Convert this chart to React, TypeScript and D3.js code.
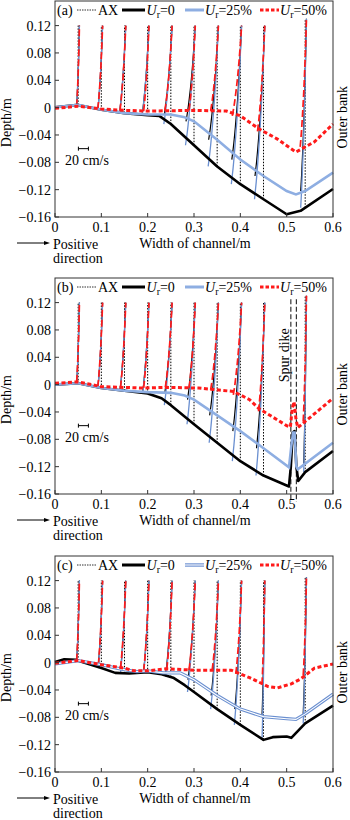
import React, { useRef, useEffect } from "react";
import * as d3 from "d3";

// stations where velocity profiles were measured (m)
const stations = [0.05, 0.1, 0.15, 0.2, 0.25, 0.3, 0.35, 0.4, 0.45, 0.54];
const topsAB = [0.12, 0.12, 0.12, 0.12, 0.12, 0.12, 0.12, 0.12, 0.12, 0.13];
const topsC = [0.12, 0.12, 0.12, 0.12, 0.12, 0.12, 0.12, 0.12, 0.12, 0.125];

// normalised height above bed and fraction of velocity change
const profileEta = [0, 0.1, 0.25, 0.4, 0.6, 0.8, 1];
const profileFrac = [0, 0.17, 0.37, 0.54, 0.72, 0.87, 1];
const surfaceVel = 2.5; // cm/s

const xTicks = [0, 0.1, 0.2, 0.3, 0.4, 0.5, 0.6];
const yTicks = [0.12, 0.08, 0.04, 0, -0.04, -0.08, -0.12, -0.16];

// bed profiles [x, depth]
const bedA0 = [[0, 0.0005], [0.05, 0.004], [0.1, -0.003], [0.15, -0.008], [0.2, -0.011], [0.225, -0.012], [0.25, -0.024], [0.3, -0.055], [0.35, -0.086], [0.4, -0.112], [0.45, -0.134], [0.5, -0.156], [0.53, -0.151], [0.6, -0.119]];
const bedA25 = [[0, 0.0005], [0.05, 0.004], [0.1, -0.003], [0.15, -0.008], [0.2, -0.01], [0.25, -0.01], [0.28, -0.014], [0.3, -0.02], [0.35, -0.047], [0.4, -0.076], [0.45, -0.1], [0.5, -0.122], [0.52, -0.127], [0.54, -0.122], [0.6, -0.095]];
const bedA50 = [[0, -0.001], [0.05, 0.002], [0.1, -0.002], [0.15, -0.004], [0.2, -0.005], [0.3, -0.004], [0.37, -0.005], [0.4, -0.012], [0.44, -0.031], [0.48, -0.046], [0.52, -0.065], [0.56, -0.05], [0.6, -0.024]];

const bedB0 = [[0, 0], [0.05, 0.002], [0.1, -0.005], [0.15, -0.009], [0.2, -0.013], [0.23, -0.02], [0.25, -0.03], [0.3, -0.058], [0.35, -0.085], [0.4, -0.112], [0.45, -0.133], [0.505, -0.149], [0.509, -0.12], [0.513, -0.07], [0.517, -0.068], [0.521, -0.12], [0.525, -0.141], [0.54, -0.128], [0.6, -0.097]];
const bedB25 = [[0, 0], [0.05, 0.002], [0.1, -0.005], [0.15, -0.009], [0.2, -0.011], [0.25, -0.012], [0.28, -0.016], [0.3, -0.022], [0.35, -0.045], [0.4, -0.068], [0.45, -0.093], [0.505, -0.121], [0.51, -0.09], [0.514, -0.07], [0.517, -0.07], [0.521, -0.12], [0.524, -0.124], [0.6, -0.085]];
const bedB50 = [[0, 0.002], [0.05, 0.004], [0.1, -0.003], [0.19, -0.005], [0.24, -0.004], [0.31, -0.005], [0.385, -0.01], [0.42, -0.022], [0.44, -0.035], [0.5, -0.06], [0.508, -0.062], [0.512, -0.035], [0.516, -0.025], [0.52, -0.05], [0.524, -0.063], [0.6, -0.02]];

const bedC0 = [[0, 0.001], [0.02, 0.005], [0.045, 0.004], [0.1, -0.008], [0.13, -0.015], [0.16, -0.016], [0.2, -0.014], [0.23, -0.017], [0.255, -0.022], [0.28, -0.033], [0.3, -0.043], [0.35, -0.068], [0.4, -0.091], [0.45, -0.113], [0.47, -0.109], [0.5, -0.108], [0.51, -0.11], [0.54, -0.089], [0.6, -0.063]];
const bedC25 = [[0, -0.002], [0.05, 0.003], [0.1, -0.003], [0.133, -0.008], [0.155, -0.011], [0.177, -0.013], [0.2, -0.012], [0.234, -0.015], [0.27, -0.015], [0.3, -0.025], [0.35, -0.048], [0.4, -0.068], [0.45, -0.079], [0.5, -0.082], [0.52, -0.083], [0.54, -0.075], [0.6, -0.046]];
const bedC50 = [[0, -0.001], [0.05, 0.003], [0.1, -0.003], [0.15, -0.008], [0.17, -0.012], [0.2, -0.012], [0.24, -0.009], [0.3, -0.011], [0.38, -0.011], [0.42, -0.022], [0.46, -0.035], [0.48, -0.037], [0.51, -0.031], [0.53, -0.024], [0.56, -0.008], [0.6, -0.002]];

// near-bed velocity at each station (cm/s)
const velA0 = [-3, -7, -10, -11, -14, -17, -18, -18, -18, -9];
const velA25 = [-3, -7, -10, -11, -13, -16, -17, -17, -17, -9];
const velA50 = [-3, -7, -9, -8, -12, -10, -13, -16, -12, -10];
const velB0 = [-3, -7, -9, -10, -13, -14, -16, -16, -15, -3];
const velB25 = [-3, -7, -9, -10, -12, -13, -15, -15, -14, -3];
const velB50 = [-3, -7, -8, -8, -11, -10, -13, -14, -10, -4];
const velC0 = [-3, -6, -8, -8, -10, -13, -13, -12, -3, -4];
const velC25 = [-3, -6, -8, -8, -10, -12, -12, -11, -3, -4];
const velC50 = [-3, -6, -8, -8, -8, -10, -10, -9, -3, -4];

const panels = [
  { label: "(a)", top: 1, beds: [bedA0, bedA25, bedA50], vels: [velA0, velA25, velA50], tops: topsAB, spur: false, hollow: false },
  { label: "(b)", top: 278, beds: [bedB0, bedB25, bedB50], vels: [velB0, velB25, velB50], tops: topsAB, spur: true, hollow: false },
  { label: "(c)", top: 556, beds: [bedC0, bedC25, bedC50], vels: [velC0, velC25, velC50], tops: topsC, spur: false, hollow: true },
];

const FONT = "'Liberation Serif', 'Times New Roman', serif";
const BLUE = "#8eaee2";
const BLUE_DARK = "#6a8fd0";
const RED = "#ff1a1a";
const PANEL_H = 216;
const SCALE_BAR_M = 0.0216; // 20 cm/s on the x axis

const App = () => {
  const ref = useRef(null);

  useEffect(() => {
    const svg = d3.select(ref.current);
    svg.selectAll("*").remove();

    const x = d3.scaleLinear().domain([0, 0.6]).range([55, 333]);
    const y = d3.scaleLinear().domain([-0.16, 0.156]).range([PANEL_H, 0]);
    const velToM = SCALE_BAR_M / 20;
    const bedLine = d3.line().x((d) => x(d[0])).y((d) => y(d[1]));
    const profLine = d3.line().x((d) => d[0]).y((d) => d[1]).curve(d3.curveMonotoneY);
    const fmt = (v) => (v === 0 ? "0" : (v < 0 ? "\u2212" : "") + String(Math.abs(v)));

    panels.forEach((p) => {
      const g = svg.append("g").attr("transform", `translate(0,${p.top})`);
      const interp = p.beds.map((b) =>
        d3.scaleLinear().domain(b.map((d) => d[0])).range(b.map((d) => d[1]))
      );

      // AX dotted reference lines
      stations.forEach((s, i) => {
        g.append("line")
          .attr("x1", x(s)).attr("x2", x(s))
          .attr("y1", y(interp[0](s))).attr("y2", y(p.tops[i]))
          .attr("stroke", "#000").attr("stroke-width", 1)
          .attr("stroke-dasharray", "1.5,1.5");
      });

      if (p.spur) {
        [0.509, 0.521].forEach((sx) => {
          g.append("line")
            .attr("x1", x(sx)).attr("x2", x(sx))
            .attr("y1", y(0.125)).attr("y2", PANEL_H + 8)
            .attr("stroke", "#333").attr("stroke-width", 1.2)
            .attr("stroke-dasharray", "5,2.5");
        });
        g.append("text")
          .attr("transform", `translate(289,${y(0.043)}) rotate(-90)`)
          .attr("text-anchor", "middle")
          .attr("font-family", FONT).attr("font-size", 14)
          .text("Spur dike");
      }

      // velocity profiles: blue, black, red
      const profStyles = [
        { c: BLUE_DARK, w: 1.3, dash: null },
        { c: "#000", w: 1.2, dash: null },
        { c: RED, w: 1.7, dash: "7,3" },
      ];
      [1, 0, 2].forEach((k) => {
        stations.forEach((s, i) => {
          const zb = interp[k](s);
          const vb = p.vels[k][i];
          const pts = profileEta.map((e, j) => {
            const z = zb + e * (p.tops[i] - zb);
            const v = vb + profileFrac[j] * (surfaceVel - vb);
            return [x(s + v * velToM), y(z)];
          });
          const st = profStyles[k];
          g.append("path")
            .attr("d", profLine(pts))
            .attr("fill", "none")
            .attr("stroke", st.c).attr("stroke-width", st.w)
            .attr("stroke-dasharray", st.dash);
        });
      });

      // bed lines
      g.append("path").attr("d", bedLine(p.beds[0])).attr("fill", "none")
        .attr("stroke", "#000").attr("stroke-width", 2.6).attr("stroke-linejoin", "round");
      if (p.hollow) {
        g.append("path").attr("d", bedLine(p.beds[1])).attr("fill", "none")
          .attr("stroke", BLUE_DARK).attr("stroke-width", 3.2);
        g.append("path").attr("d", bedLine(p.beds[1])).attr("fill", "none")
          .attr("stroke", "#fff").attr("stroke-width", 1.1);
      } else {
        g.append("path").attr("d", bedLine(p.beds[1])).attr("fill", "none")
          .attr("stroke", BLUE).attr("stroke-width", 2.6);
      }
      g.append("path").attr("d", bedLine(p.beds[2])).attr("fill", "none")
        .attr("stroke", RED).attr("stroke-width", 3).attr("stroke-dasharray", "4,2.5");

      // frame
      g.append("rect")
        .attr("x", 55).attr("y", 0).attr("width", 278).attr("height", PANEL_H)
        .attr("fill", "none").attr("stroke", "#333").attr("stroke-width", 1);

      // ticks and labels
      xTicks.forEach((t) => {
        g.append("line").attr("x1", x(t)).attr("x2", x(t))
          .attr("y1", PANEL_H).attr("y2", PANEL_H - 4).attr("stroke", "#333");
        g.append("text").attr("x", x(t)).attr("y", PANEL_H + 15)
          .attr("text-anchor", "middle").attr("font-family", FONT).attr("font-size", 14)
          .text(String(t));
      });
      yTicks.forEach((t) => {
        g.append("line").attr("x1", 55).attr("x2", 59)
          .attr("y1", y(t)).attr("y2", y(t)).attr("stroke", "#333");
        g.append("text").attr("x", 51).attr("y", y(t) + 5)
          .attr("text-anchor", "end").attr("font-family", FONT).attr("font-size", 14)
          .text(fmt(t));
      });

      g.append("text")
        .attr("transform", `translate(11,${y(-0.022)}) rotate(-90)`)
        .attr("text-anchor", "middle").attr("font-family", FONT).attr("font-size", 14)
        .text("Depth/m");
      g.append("text")
        .attr("transform", `translate(347,${y(-0.014)}) rotate(-90)`)
        .attr("text-anchor", "middle").attr("font-family", FONT).attr("font-size", 14)
        .text("Outer bank");
      g.append("text").attr("x", 195).attr("y", PANEL_H + 31)
        .attr("text-anchor", "middle").attr("font-family", FONT).attr("font-size", 14)
        .text("Width of channel/m");

      // positive direction arrow
      g.append("line").attr("x1", 17).attr("x2", 46)
        .attr("y1", PANEL_H + 26).attr("y2", PANEL_H + 26).attr("stroke", "#000").attr("stroke-width", 1);
      g.append("path")
        .attr("d", `M50,${PANEL_H + 26} L44,${PANEL_H + 24} L44,${PANEL_H + 28} Z`)
        .attr("fill", "#000");
      g.append("text").attr("x", 53).attr("y", PANEL_H + 32)
        .attr("font-family", FONT).attr("font-size", 14).text("Positive");
      g.append("text").attr("x", 53).attr("y", PANEL_H + 46)
        .attr("font-family", FONT).attr("font-size", 14).text("direction");

      // velocity scale bar
      const sbY = y(-0.06);
      const sb0 = x(0.0505);
      const sb1 = x(0.0505 + SCALE_BAR_M);
      g.append("path")
        .attr("d", `M${sb0},${sbY - 2}V${sbY + 2}M${sb0},${sbY}H${sb1}M${sb1},${sbY - 2}V${sbY + 2}`)
        .attr("stroke", "#000").attr("stroke-width", 1).attr("fill", "none");
      g.append("text").attr("x", 65).attr("y", sbY + 16)
        .attr("font-family", FONT).attr("font-size", 14).text("20 cm/s");

      // legend
      const ly = 9;
      const lg = g.append("g").attr("font-family", FONT).attr("font-size", 14);
      lg.append("text").attr("x", 57).attr("y", ly + 5).text(p.label);
      lg.append("line").attr("x1", 77).attr("x2", 97).attr("y1", ly).attr("y2", ly)
        .attr("stroke", "#333").attr("stroke-width", 1).attr("stroke-dasharray", "1.5,1");
      lg.append("text").attr("x", 98).attr("y", ly + 5).text("AX");
      lg.append("line").attr("x1", 122).attr("x2", 145).attr("y1", ly).attr("y2", ly)
        .attr("stroke", "#000").attr("stroke-width", 3);
      if (p.hollow) {
        lg.append("line").attr("x1", 185).attr("x2", 204).attr("y1", ly).attr("y2", ly)
          .attr("stroke", BLUE_DARK).attr("stroke-width", 3.4);
        lg.append("line").attr("x1", 185).attr("x2", 204).attr("y1", ly).attr("y2", ly)
          .attr("stroke", "#fff").attr("stroke-width", 1.1);
      } else {
        lg.append("line").attr("x1", 185).attr("x2", 204).attr("y1", ly).attr("y2", ly)
          .attr("stroke", BLUE).attr("stroke-width", 3);
      }
      lg.append("line").attr("x1", 260).attr("x2", 279).attr("y1", ly).attr("y2", ly)
        .attr("stroke", RED).attr("stroke-width", 3).attr("stroke-dasharray", "3.5,2");
      const urLabel = (lx, val) => {
        const t = lg.append("text").attr("x", lx).attr("y", ly + 5);
        t.append("tspan").attr("font-style", "italic").text("U");
        t.append("tspan").attr("font-size", 10).attr("dy", 3).text("r");
        t.append("tspan").attr("dy", -3).text("=" + val);
      };
      urLabel(146.5, "0");
      urLabel(205, "25%");
      urLabel(280, "50%");
    });
  }, []);

  return (
    <svg
      ref={ref}
      width={350}
      height={820}
      style={{ position: "absolute", left: 0, top: 0, background: "#fff" }}
    />
  );
};

export default App;
